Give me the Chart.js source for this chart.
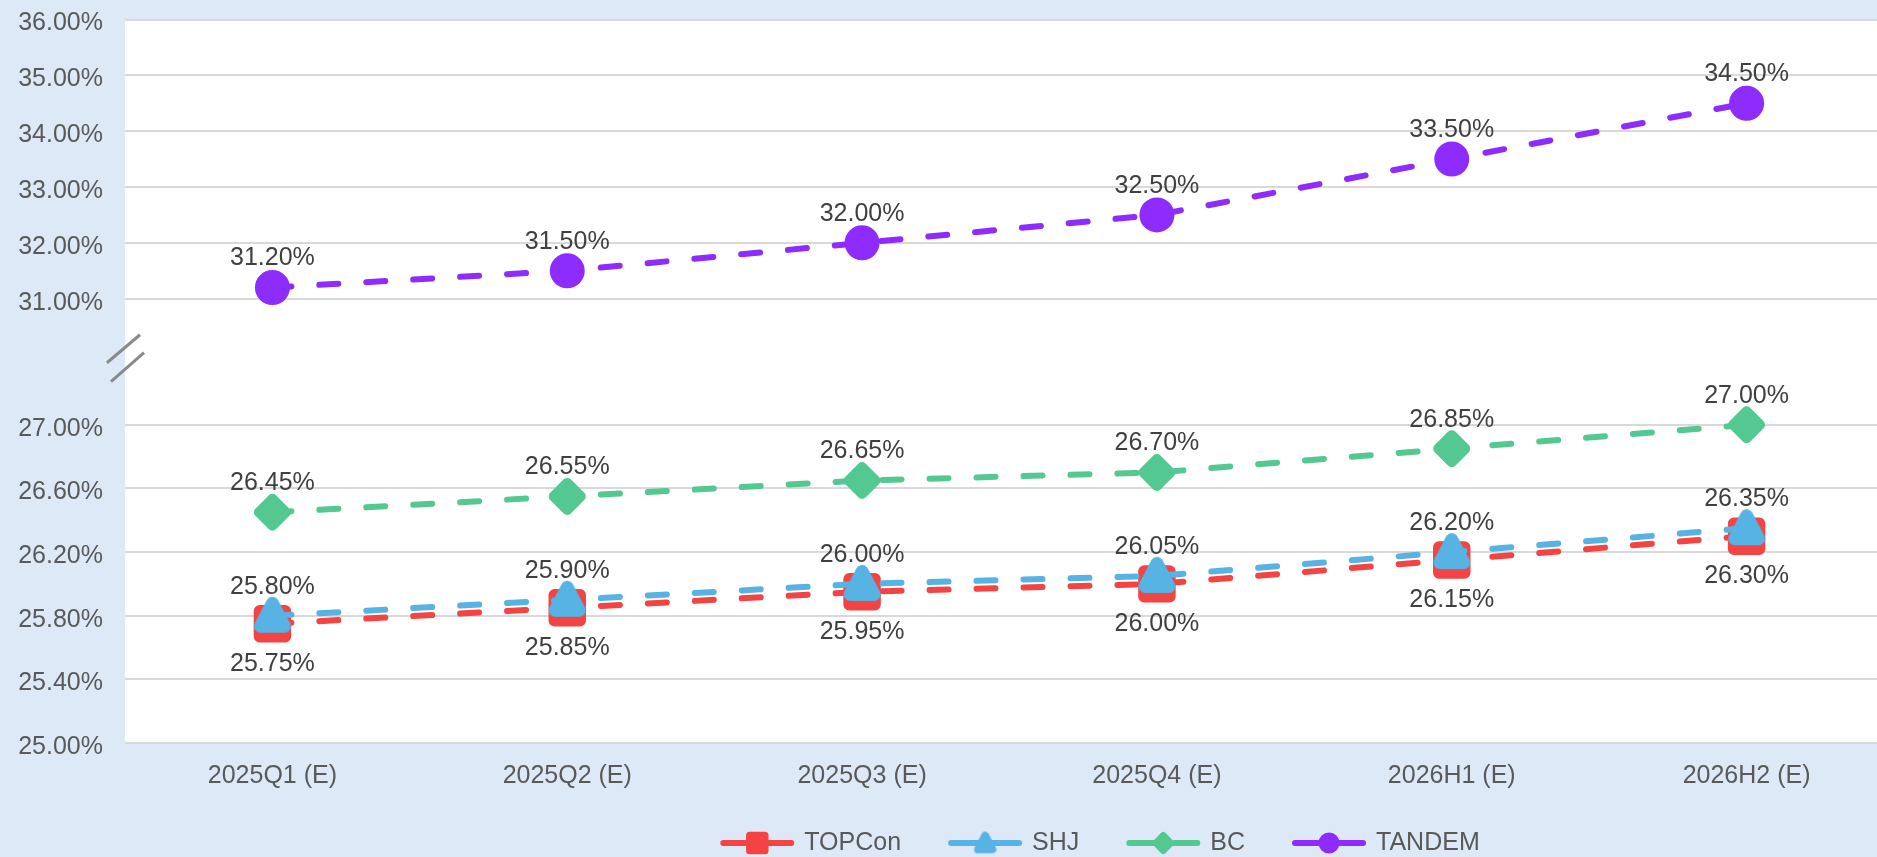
<!DOCTYPE html>
<html>
<head>
<meta charset="utf-8">
<title>Cell efficiency outlook</title>
<script src="https://cdn.jsdelivr.net/npm/chart.js@4.4.1/dist/chart.umd.min.js"></script>
<style>
  html, body { margin: 0; padding: 0; background: #dee9f8; overflow: hidden; }
  #chart { display: block; }
</style>
</head>
<body>
<canvas id="chart" width="1894" height="857"></canvas>
<script>
// data
var categories = ["2025Q1 (E)", "2025Q2 (E)", "2025Q3 (E)", "2025Q4 (E)", "2026H1 (E)", "2026H2 (E)"];
var seriesNames = ["TOPCon", "SHJ", "BC", "TANDEM"];
var topcon = [25.75, 25.85, 25.95, 26.00, 26.15, 26.30];
var shj    = [25.80, 25.90, 26.00, 26.05, 26.20, 26.35];
var bc     = [26.45, 26.55, 26.65, 26.70, 26.85, 27.00];
var tandem = [31.20, 31.50, 32.00, 32.50, 33.50, 34.50];
var lowTicks  = [25.00, 25.40, 25.80, 26.20, 26.60, 27.00];
var highTicks = [31.00, 32.00, 33.00, 34.00, 35.00, 36.00];

(function () {
    "use strict";

    var FONT = '"Liberation Sans", Arial, sans-serif';
    var BG = "#dee9f8";
    var seriesValues = [topcon, shj, bc, tandem];

    // soft-cornered triangle marker, centred on the point
    function roundTriangle(color, k) {
        var c = document.createElement("canvas");
        c.width = Math.round(42 * k);
        c.height = Math.round(42 * k);
        var g = c.getContext("2d");
        g.scale(k, k);
        g.fillStyle = color;
        g.strokeStyle = color;
        g.lineWidth = 13;
        g.lineJoin = "round";
        g.beginPath();
        g.moveTo(21, 8.5);
        g.lineTo(33, 31.5);
        g.lineTo(9, 31.5);
        g.closePath();
        g.fill();
        g.stroke();
        return c;
    }

    // look of each series (thick round-joined borders give the soft marker corners)
    var styles = [
        { color: "#f44343", pointStyle: "rect",    radius: 18,   border: 12, axis: "yLow",  order: 1, labelSide: "below" },
        { color: "#56b3e3", pointStyle: "image",   radius: 17,   border: 0,  axis: "yLow",  order: 0, labelSide: "above" },
        { color: "#54c891", pointStyle: "rectRot", radius: 13.5, border: 10, axis: "yLow",  order: 2, labelSide: "above" },
        { color: "#8d2cfd", pointStyle: "circle",  radius: 15,   border: 5,  axis: "yHigh", order: 3, labelSide: "above" }
    ];
    styles[1].pointStyle = roundTriangle(styles[1].color, 1);
    styles[1].legendStyle = roundTriangle(styles[1].color, 0.6);

    var pct = function (v) { return Number(v).toFixed(2) + "%"; };
    var fixWidth = function (axis) { axis.width = 125; };
    var tickFont = { size: 25, family: FONT };

    var datasets = seriesNames.map(function (name, i) {
        var s = styles[i];
        return {
            label: name,
            data: seriesValues[i],
            yAxisID: s.axis,
            order: s.order,
            borderColor: s.color,
            backgroundColor: s.color,
            borderWidth: 6,
            borderDash: [19, 28],
            borderCapStyle: "round",
            pointStyle: s.pointStyle,
            pointRadius: s.radius,
            pointHoverRadius: s.radius,
            pointBorderWidth: s.border,
            pointBorderColor: s.color,
            pointBackgroundColor: s.color,
            tension: 0,
            clip: false
        };
    });

    // canvas + white plot area, rounded marker corners
    var backdrop = {
        id: "backdrop",
        beforeDraw: function (chart) {
            var ctx = chart.ctx, a = chart.chartArea;
            ctx.save();
            ctx.fillStyle = BG;
            ctx.fillRect(0, 0, chart.width, chart.height);
            ctx.fillStyle = "#ffffff";
            ctx.fillRect(a.left, a.top, a.right - a.left, a.bottom - a.top);
            ctx.restore();
        },
        beforeDatasetsDraw: function (chart) {
            chart.ctx.lineJoin = "round";
        }
    };

    // value labels
    var valueLabels = {
        id: "valueLabels",
        afterDatasetsDraw: function (chart) {
            var ctx = chart.ctx;
            ctx.save();
            ctx.font = "25px " + FONT;
            ctx.fillStyle = "#404040";
            ctx.textAlign = "center";
            ctx.textBaseline = "middle";
            chart.data.datasets.forEach(function (ds, i) {
                var dy = styles[i].labelSide === "below" ? 40 : -29;
                chart.getDatasetMeta(i).data.forEach(function (pt, j) {
                    ctx.fillText(pct(ds.data[j]), pt.x, pt.y + dy);
                });
            });
            ctx.restore();
        }
    };

    // axis break marks "//"
    var axisBreak = {
        id: "axisBreak",
        afterDraw: function (chart) {
            var gap = chart.scales.yGap, ctx = chart.ctx;
            var cx = chart.chartArea.left, cy = (gap.top + gap.bottom) / 2;
            ctx.save();
            ctx.strokeStyle = "#8a8a8a";
            ctx.lineWidth = 3;
            ctx.beginPath();
            ctx.moveTo(cx - 18, cy + 1);
            ctx.lineTo(cx + 15, cy - 27);
            ctx.moveTo(cx - 14, cy + 20);
            ctx.lineTo(cx + 19, cy - 9);
            ctx.stroke();
            ctx.restore();
        }
    };

    // legend: line with marker, then name
    var bottomLegend = {
        id: "bottomLegend",
        afterDraw: function (chart) {
            var ctx = chart.ctx;
            var y = 843, lineLen = 74, textGap = 10, itemGap = 47;
            ctx.save();
            ctx.font = "25px " + FONT;
            var widths = seriesNames.map(function (n) { return ctx.measureText(n).width; });
            var total = widths.reduce(function (s, w) { return s + lineLen + textGap + w; }, 0) + itemGap * (seriesNames.length - 1);
            var x = 1100 - total / 2;
            seriesNames.forEach(function (name, i) {
                var s = styles[i];
                ctx.strokeStyle = s.color;
                ctx.fillStyle = s.color;
                ctx.lineWidth = 6;
                ctx.lineCap = "round";
                ctx.lineJoin = "round";
                ctx.beginPath();
                ctx.moveTo(x + 3, y);
                ctx.lineTo(x + lineLen - 3, y);
                ctx.stroke();
                ctx.lineWidth = s.border * 0.6;
                Chart.helpers.drawPoint(ctx, {
                    pointStyle: s.legendStyle || s.pointStyle,
                    radius: s.radius * 0.6,
                    rotation: 0,
                    borderWidth: s.border * 0.6
                }, x + lineLen / 2, y);
                ctx.fillStyle = "#595959";
                ctx.textAlign = "left";
                ctx.textBaseline = "middle";
                ctx.fillText(name, x + lineLen + textGap, y);
                x += lineLen + textGap + widths[i] + itemGap;
            });
            ctx.restore();
        }
    };

    var yTicks = { color: "#595959", font: tickFont, padding: 0, labelOffset: 4, autoSkip: false, callback: pct };
    var yGrid = { color: "#d9d9d9", lineWidth: 2, drawTicks: true, tickLength: 22, tickColor: "rgba(0,0,0,0)" };

    var ctx = document.getElementById("chart").getContext("2d");
    var myChart = new Chart(ctx, {
        type: "line",
        data: {
            labels: categories,
            datasets: datasets
        },
        options: {
            responsive: false,
            animation: false,
            devicePixelRatio: 1,
            events: [],
            layout: { autoPadding: false, padding: { top: 19.5, left: 0, right: 0, bottom: 0 } },
            plugins: {
                legend: { display: false },
                tooltip: { enabled: false }
            },
            scales: {
                x: {
                    offset: true,
                    grid: { display: false, drawTicks: false },
                    border: { display: false },
                    ticks: { color: "#595959", font: tickFont, padding: 18, maxRotation: 0, autoSkip: false },
                    afterFit: function (axis) { axis.height = 114; }
                },
                yLow: {
                    position: "left",
                    stack: "y",
                    stackWeight: 318,
                    min: lowTicks[0],
                    max: lowTicks[lowTicks.length - 1],
                    afterBuildTicks: function (axis) {
                        axis.ticks = lowTicks.map(function (v) { return { value: v }; });
                    },
                    grid: yGrid,
                    border: { display: false },
                    ticks: yTicks,
                    afterFit: fixWidth
                },
                yGap: {
                    position: "left",
                    stack: "y",
                    stackWeight: 126,
                    min: 0,
                    max: 1,
                    grid: { display: false, drawTicks: false },
                    border: { display: false },
                    ticks: { display: false },
                    afterFit: fixWidth
                },
                yHigh: {
                    position: "left",
                    stack: "y",
                    stackWeight: 279,
                    min: highTicks[0],
                    max: highTicks[highTicks.length - 1],
                    afterBuildTicks: function (axis) {
                        axis.ticks = highTicks.map(function (v) { return { value: v }; });
                    },
                    grid: yGrid,
                    border: { display: false },
                    ticks: yTicks,
                    afterFit: fixWidth
                }
            }
        },
        plugins: [backdrop, valueLabels, axisBreak, bottomLegend]
    });
})();
</script>
</body>
</html>
